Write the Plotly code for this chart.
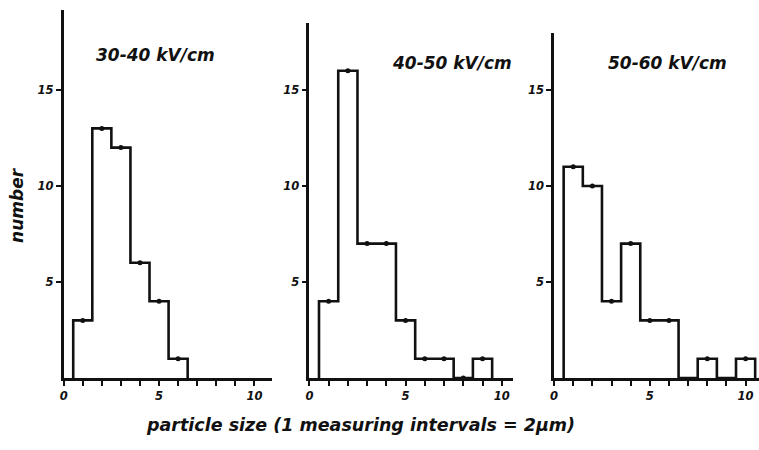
import plotly.graph_objects as go

# Particle-size histograms for three field-strength ranges
titles = ["30-40 kV/cm", "40-50 kV/cm", "50-60 kV/cm"]

size_1 = [1, 2, 3, 4, 5, 6]
count_1 = [3, 13, 12, 6, 4, 1]

size_2 = [1, 2, 3, 4, 5, 6, 7, 8, 9]
count_2 = [4, 16, 7, 7, 3, 1, 1, 0, 1]

size_3 = [1, 2, 3, 4, 5, 6, 8, 10]
count_3 = [11, 10, 4, 7, 3, 3, 1, 1]

y_ticks = [5, 10, 15]
x_ticks = [0, 5, 10]

W, H = 759, 450
INK = "#111"
HAND = dict(family="DejaVu Sans", color=INK)


def step_outline(centers, counts, width=1.0):
    """Outline of a histogram with unit-wide bins; empty bins sit on 0."""
    lookup = dict(zip(centers, counts))
    lo, hi = min(centers), max(centers)
    xs, ys = [lo - width / 2], [0]
    c = lo
    while c <= hi:
        v = lookup.get(c, 0)
        xs += [c - width / 2, c + width / 2]
        ys += [v, v]
        c += 1
    xs.append(hi + width / 2)
    ys.append(0)
    return xs, ys


panels = [
    dict(x=size_1, y=count_1, dom=(60, 269), xr=[0, 10.9], top=10,
         label_xy=(152, 55)),
    dict(x=size_2, y=count_2, dom=(307, 512), xr=[0, 10.6], top=23,
         label_xy=(450, 63)),
    dict(x=size_3, y=count_3, dom=(553, 759), xr=[0, 10.7], top=33,
         label_xy=(667, 63)),
]

base_px = 378
unit_px = 19.2

fig = go.Figure()
for i, p in enumerate(panels, start=1):
    xa = "x" if i == 1 else f"x{i}"
    ya = "y" if i == 1 else f"y{i}"
    ox, oy = step_outline(p["x"], p["y"])
    fig.add_trace(go.Scatter(
        x=ox, y=oy, mode="lines", xaxis=xa, yaxis=ya,
        line=dict(color=INK, width=2.6), showlegend=False,
        hoverinfo="skip"))
    fig.add_trace(go.Scatter(
        x=p["x"], y=p["y"], mode="markers", xaxis=xa, yaxis=ya,
        marker=dict(color=INK, size=5), showlegend=False,
        hoverinfo="x+y"))

    ytop = (base_px - p["top"]) / unit_px
    axis_common = dict(showgrid=False, zeroline=False, showline=True,
                       linecolor=INK, linewidth=2.6, ticks="outside",
                       tickcolor=INK, tickwidth=2, ticklen=5,
                       tickfont=dict(size=11.5, **HAND, weight="bold",
                                     style="italic"))
    key = "" if i == 1 else str(i)
    fig.layout[f"xaxis{key}"] = dict(
        domain=[p["dom"][0] / W, p["dom"][1] / W], range=p["xr"],
        anchor=ya, tickmode="array", tickvals=list(range(0, 11)),
        ticktext=[str(v) if v in x_ticks else "" for v in range(0, 11)],
        **axis_common)
    fig.layout[f"yaxis{key}"] = dict(
        domain=[1 - base_px / H, 1 - p["top"] / H], range=[0, ytop],
        anchor=xa, tickvals=y_ticks, ticktext=[str(v) for v in y_ticks],
        **axis_common)

    lx, ly = p["label_xy"]
    fig.add_annotation(x=lx / W, y=1 - ly / H, xref="paper", yref="paper",
                       xanchor="center", yanchor="middle",
                       text=titles[i - 1], showarrow=False,
                       font=dict(size=17, **HAND, weight="bold",
                                 style="italic"))

fig.add_annotation(x=13 / W, y=1 - 205 / H, xref="paper", yref="paper",
                   xanchor="center", yanchor="middle",
                   text="number", showarrow=False, textangle=-90,
                   font=dict(size=17, **HAND, weight="bold",
                             style="italic"))
fig.add_annotation(x=358 / W, y=1 - 425 / H, xref="paper", yref="paper",
                   xanchor="center", yanchor="middle",
                   text="particle size (1 measuring intervals = 2µm)",
                   showarrow=False,
                   font=dict(size=17.5, **HAND, weight="bold",
                             style="italic"))

fig.update_layout(width=W, height=H, margin=dict(l=0, r=0, t=0, b=0),
                  paper_bgcolor="white", plot_bgcolor="white")
fig.write_html("out.html")
